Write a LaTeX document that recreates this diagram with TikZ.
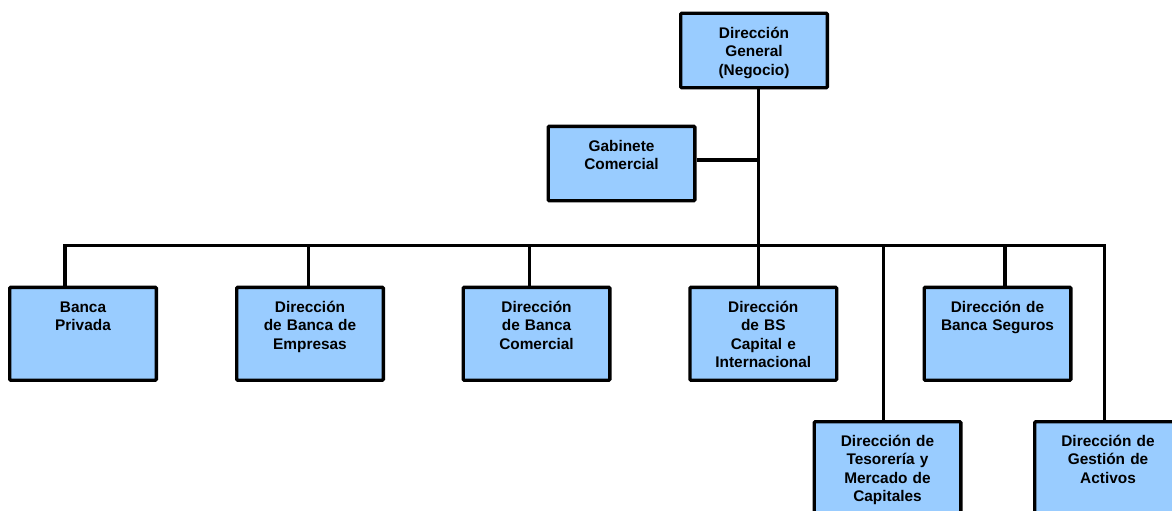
\documentclass[tikz,border=0pt]{standalone}
\usepackage{fontspec}
\setmainfont{Liberation Sans}
\definecolor{boxblue}{RGB}{153,204,255}
\begin{document}
\begin{tikzpicture}[x=1pt,y=-1pt,
  orgbox/.style={rectangle, draw=black, fill=boxblue, line width=3.3pt, minimum width=146.7pt, inner sep=0pt, rounded corners=1pt},
  shortbox/.style={orgbox, minimum height=74.3pt},
  tallbox/.style={orgbox, minimum height=92.9pt},
  boxtext/.style={font=\bfseries\fontsize{15.4}{18.5}\selectfont, align=center, text width=146pt, inner sep=0pt, anchor=base, text=black},
  link/.style={line width=3.3pt, line join=miter}]
\path[use as bounding box, clip] (0,0) rectangle (1172,511);

% boxes
\node[shortbox] (dg)  at (754,50.5) {};
\node[shortbox] (gab) at (621.5,163.5) {};
\node[tallbox] (b1) at (83,333.8) {};
\node[tallbox] (b2) at (310,333.8) {};
\node[tallbox] (b3) at (536.5,333.8) {};
\node[tallbox] (b4) at (763.3,333.8) {};
\node[tallbox] (b5) at (997.5,333.8) {};
\node[tallbox] (b6) at (887.5,468.2) {};
\node[tallbox] (b7) at (1108,468.2) {};

% texts
\node[boxtext] (t0) at ([yshift=-26.3pt]dg.north) {Dirección\\General\\(Negocio)};
\node[boxtext] (tg) at ([yshift=-26.3pt]gab.north) {Gabinete\\Comercial};
\node[boxtext] (t1) at ([yshift=-26.3pt]b1.north) {Banca\\Privada};
\node[boxtext] (t2) at ([yshift=-26.3pt]b2.north) {Dirección\\de Banca de\\Empresas};
\node[boxtext] (t3) at ([yshift=-26.3pt]b3.north) {Dirección\\de Banca\\Comercial};
\node[boxtext] (t4) at ([yshift=-26.3pt]b4.north) {Dirección\\de BS\\Capital e\\Internacional};
\node[boxtext] (t5) at ([yshift=-26.3pt]b5.north) {Dirección de\\Banca Seguros};
\node[boxtext] (t6) at ([yshift=-26.3pt]b6.north) {Dirección de\\Tesorería y\\Mercado de\\Capitales};
\node[boxtext] (t7) at ([yshift=-26.3pt]b7.north) {Dirección de\\Gestión de\\Activos};

% connector points
\coordinate (tj) at (758.3,245.3);
\coordinate (gj) at (758.3,160);
\coordinate (bl) at (65,245.3);
\coordinate (br) at (1104.3,245.3);
\coordinate (d2) at (308.3,245.3);
\coordinate (d3) at (529.3,245.3);
\coordinate (d5) at (1005,245.3);
\coordinate (d6) at (883.3,245.3);

% connectors
\draw[link] (dg.south -| tj) -- (b4.north -| tj);
\draw[link] (gab.east |- gj) -- (gj);
\draw[link] (b1.north -| bl) -- (bl) -- (br) -- (b7.north -| br);
\draw[link] (d2) -- (d2 |- b2.north);
\draw[link] (d3) -- (d3 |- b3.north);
\draw[link] (d5) -- (d5 |- b5.north);
\draw[link] (d6) -- (d6 |- b6.north);
\end{tikzpicture}
\end{document}
